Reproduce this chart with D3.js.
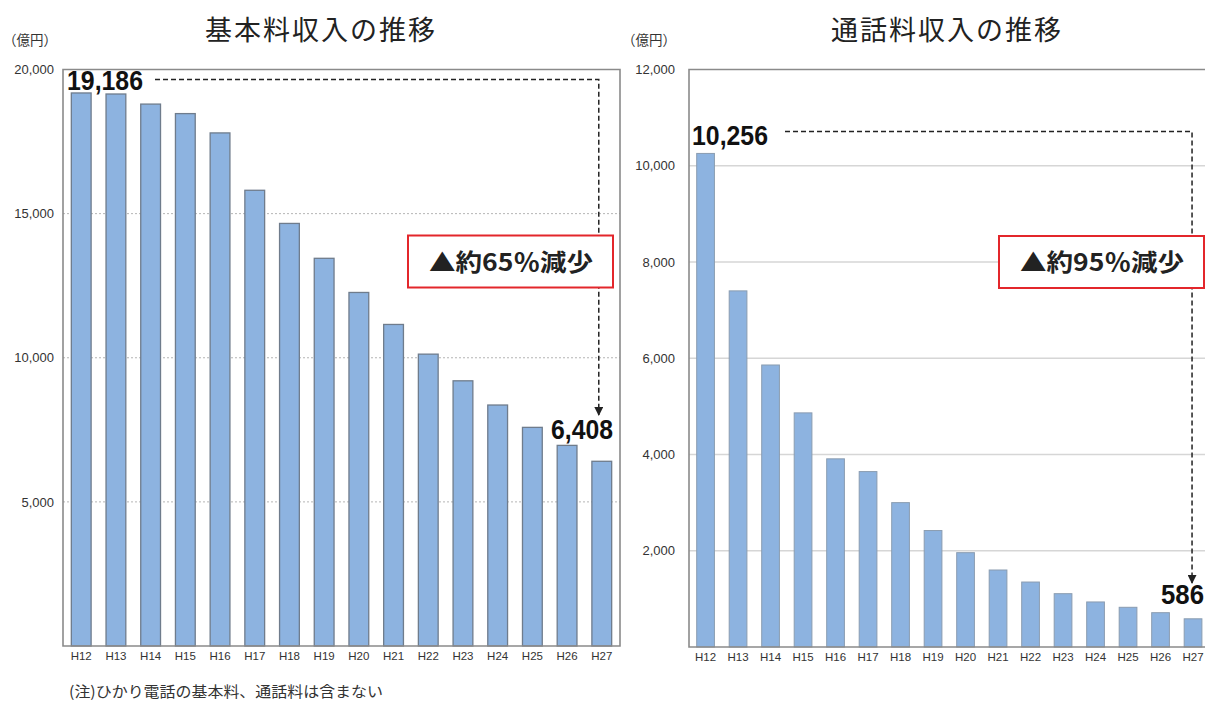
<!DOCTYPE html>
<html>
<head>
<meta charset="utf-8">
<script src="https://cdn.jsdelivr.net/npm/d3@7"></script>
<style>
  body { margin: 0; background: #fff; }
  text { font-family: "Liberation Sans", Arial, sans-serif; }
  .jp { font-family: "Noto Sans CJK JP", sans-serif; }
</style>
</head>
<body>
<div id="chart-area"></div>
<script>
// data (億円)
var years = ["H12","H13","H14","H15","H16","H17","H18","H19","H20","H21","H22","H23","H24","H25","H26","H27"];
var basicFee = [19186, 19150, 18800, 18470, 17800, 15810, 14660, 13450, 12265, 11155, 10125, 9200, 8360, 7585, 6960, 6408];
var callFee = [10256, 7400, 5860, 4865, 3910, 3645, 3000, 2420, 1960, 1600, 1350, 1108, 936, 825, 713, 586];
var basicTicks = [5000, 10000, 15000, 20000];
var callTicks = [2000, 4000, 6000, 8000, 10000, 12000];
var reductionLabels = ["▲約65％減少", "▲約95％減少"];

var W = 1205, H = 702;
var svg = d3.select("#chart-area").append("svg")
    .attr("width", W).attr("height", H);

var fmt = d3.format(",");

// arrow head
svg.append("defs").append("marker")
    .attr("id", "arrow")
    .attr("viewBox", "0 0 10 10")
    .attr("refX", 9).attr("refY", 5)
    .attr("markerWidth", 9).attr("markerHeight", 9)
    .attr("markerUnits", "userSpaceOnUse")
    .attr("orient", "auto")
  .append("path")
    .attr("d", "M0,0L10,5L0,10Z")
    .attr("fill", "#222");

function drawChart(cfg) {
  var g = svg.append("g");

  var x = d3.scaleBand().domain(years)
      .range([cfg.left, cfg.right])
      .paddingInner(cfg.padIn).paddingOuter(cfg.padOut);
  var y = d3.scaleLinear().domain([0, cfg.max]).range([cfg.bottom, cfg.top]);

  // title and unit
  g.append("text").attr("class", "jp")
      .attr("x", cfg.titleX).attr("y", 40)
      .attr("text-anchor", "middle")
      .attr("font-size", "27px")
      .attr("letter-spacing", "2px")
      .attr("fill", "#222")
      .text(cfg.title);
  g.append("text").attr("class", "jp")
      .attr("x", cfg.unitX).attr("y", 45)
      .attr("font-size", "14px")
      .attr("fill", "#333")
      .attr("textLength", 54).attr("lengthAdjust", "spacingAndGlyphs")
      .text("（億円）");

  // gridlines
  g.append("g").selectAll("line")
    .data(cfg.ticks.filter(function(d) { return d < cfg.max; }))
    .enter().append("line")
      .attr("x1", cfg.left).attr("x2", cfg.frameRight)
      .attr("y1", function(d) { return y(d); })
      .attr("y2", function(d) { return y(d); })
      .attr("stroke", cfg.gridColor)
      .attr("stroke-width", cfg.gridWidth)
      .attr("stroke-dasharray", cfg.gridDash);

  // y axis labels
  var yAxis = d3.axisLeft(y).tickValues(cfg.ticks).tickSize(0).tickPadding(cfg.tickPad)
      .tickFormat(fmt);
  g.append("g").attr("transform", "translate(" + cfg.left + ",0)")
      .call(yAxis)
      .call(function(a) {
        a.select(".domain").remove();
        a.selectAll("text").attr("font-size", "13px").attr("fill", "#333")
          .attr("font-family", "Liberation Sans, Arial, sans-serif");
      });

  // bars
  g.append("g").selectAll("rect")
    .data(cfg.values)
    .enter().append("rect")
      .attr("x", function(d, i) { return x(years[i]); })
      .attr("y", function(d) { return y(d); })
      .attr("width", x.bandwidth())
      .attr("height", function(d) { return y(0) - y(d); })
      .attr("fill", "#8db3e0")
      .attr("stroke", cfg.barStroke)
      .attr("stroke-width", cfg.barStrokeW);

  // frame
  var frame = g.append("g").attr("fill", "none").attr("stroke", "#8a8a8a").attr("stroke-width", 1.6);
  frame.append("path")
      .attr("d", "M" + cfg.frameRight + "," + cfg.top + "H" + cfg.left + "V" + cfg.bottom + "H" + cfg.frameRight +
        (cfg.closeRight ? "Z" : ""));

  // x axis labels
  var xAxis = d3.axisBottom(x).tickSize(0).tickPadding(6);
  g.append("g").attr("transform", "translate(0," + cfg.bottom + ")")
      .call(xAxis)
      .call(function(a) {
        a.select(".domain").remove();
        a.selectAll("text").attr("font-size", "11.5px").attr("fill", "#333")
          .attr("font-family", "Liberation Sans, Arial, sans-serif");
      });

  // dashed annotation
  var first = cfg.values[0], last = cfg.values[cfg.values.length - 1];
  var vx = x(years[years.length - 1]) + x.bandwidth() / 2 + cfg.arrowShift;
  g.append("path")
      .attr("d", "M" + cfg.dashStart + "," + cfg.dashY + "H" + vx + "V" + cfg.arrowTip)
      .attr("fill", "none")
      .attr("stroke", "#222")
      .attr("stroke-width", 1.5)
      .attr("stroke-dasharray", "5,3")
      .attr("marker-end", "url(#arrow)");

  g.append("text")
      .attr("x", cfg.firstX).attr("y", cfg.firstY)
      .attr("font-size", "27px").attr("font-weight", "bold").attr("fill", "#111")
      .attr("textLength", 76).attr("lengthAdjust", "spacingAndGlyphs")
      .text(fmt(first));
  g.append("text")
      .attr("x", cfg.lastX).attr("y", cfg.lastY)
      .attr("font-size", "27px").attr("font-weight", "bold").attr("fill", "#111")
      .attr("textLength", cfg.lastW).attr("lengthAdjust", "spacingAndGlyphs")
      .text(fmt(last));

  // reduction box
  g.append("rect")
      .attr("x", cfg.boxX).attr("y", cfg.boxY)
      .attr("width", 205).attr("height", 52)
      .attr("fill", "#fff")
      .attr("stroke", "#e3262b")
      .attr("stroke-width", 2);
  g.append("text").attr("class", "jp")
      .attr("x", cfg.boxX + 103).attr("y", cfg.boxY + 35)
      .attr("text-anchor", "middle")
      .attr("font-size", "24px").attr("font-weight", "bold").attr("fill", "#222")
      .attr("textLength", 164).attr("lengthAdjust", "spacingAndGlyphs")
      .text(cfg.label);
}

drawChart({
  title: "基本料収入の推移", titleX: 321, unitX: 3,
  values: basicFee, ticks: basicTicks, max: 20000, label: reductionLabels[0],
  left: 63, right: 620, frameRight: 620, closeRight: true,
  top: 69.5, bottom: 646, padIn: 0.43, padOut: 0.24, tickPad: 9,
  gridColor: "#b5b5b5", gridWidth: 1, gridDash: "2,2",
  barStroke: "#6f7c8c", barStrokeW: 1.3,
  dashStart: 155, dashY: 79.5, arrowShift: -3, arrowTip: 415,
  firstX: 67, firstY: 90, lastX: 551, lastY: 439, lastW: 62,
  boxX: 408, boxY: 235.5
});

drawChart({
  title: "通話料収入の推移", titleX: 947, unitX: 622,
  values: callFee, ticks: callTicks, max: 12000, label: reductionLabels[1],
  left: 689, right: 1209.6, frameRight: 1206, closeRight: false,
  top: 69.5, bottom: 647, padIn: 0.455, padOut: 0.237, tickPad: 14,
  gridColor: "#d6d6d6", gridWidth: 1.3, gridDash: null,
  barStroke: "#8a9cb0", barStrokeW: 1,
  dashStart: 785, dashY: 131.5, arrowShift: -1, arrowTip: 583,
  firstX: 692, firstY: 145, lastX: 1161, lastY: 604, lastW: 43,
  boxX: 999, boxY: 236
});

// note
svg.append("text").attr("class", "jp")
    .attr("x", 69).attr("y", 697)
    .attr("font-size", "15px").attr("fill", "#333")
    .attr("textLength", 314).attr("lengthAdjust", "spacingAndGlyphs")
    .text("(注)ひかり電話の基本料、通話料は含まない");
</script>
</body>
</html>
